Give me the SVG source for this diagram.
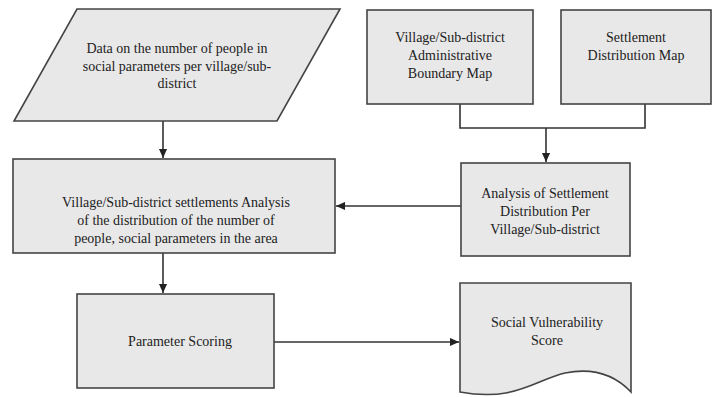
<svg xmlns="http://www.w3.org/2000/svg" width="713" height="397" viewBox="0 0 713 397">
<defs>
<style>
.n{fill:#e8e8e8;stroke:#444;stroke-width:1.6}
.t{font-family:'Liberation Serif','DejaVu Serif',serif;font-size:14px;fill:#222;text-anchor:middle}
.c{fill:none;stroke:#333;stroke-width:1.6}
</style>
<marker id="ah" viewBox="0 0 10 10" refX="10" refY="5" markerWidth="9" markerHeight="9" markerUnits="userSpaceOnUse" orient="auto">
<path d="M0,0.5 L10,5 L0,9.5 z" fill="#222"/>
</marker>
</defs>
<rect width="713" height="397" fill="#fff"/>
<g id="connectors">
<path class="c" d="M163,121 V158" marker-end="url(#ah)"/>
<path class="c" d="M460,104 V128 H645 V104"/>
<path class="c" d="M546,128 V162" marker-end="url(#ah)"/>
<path class="c" d="M461,206 H336" marker-end="url(#ah)"/>
<path class="c" d="M163,253 V293" marker-end="url(#ah)"/>
<path class="c" d="M274,342 H459" marker-end="url(#ah)"/>
</g>
<g font-family="Liberation Serif, serif">
<g id="data">
<polygon class="n" points="77,9 340,9 277,121 14,121"/>
<text class="t" x="177" y="53">Data on the number of people in</text>
<text class="t" x="177" y="71">social parameters per village/sub-</text>
<text class="t" x="177" y="88">district</text>
</g>
<g id="boundary">
<rect class="n" x="367" y="10" width="166" height="94"/>
<text class="t" x="450" y="42">Village/Sub-district</text>
<text class="t" x="450" y="60">Administrative</text>
<text class="t" x="450" y="78">Boundary Map</text>
</g>
<g id="settlement">
<rect class="n" x="561" y="10" width="150" height="94"/>
<text class="t" x="636" y="42">Settlement</text>
<text class="t" x="636" y="60">Distribution Map</text>
</g>
<g id="analysis-settlement">
<rect class="n" x="461" y="163" width="169" height="93"/>
<text class="t" x="545" y="198">Analysis of Settlement</text>
<text class="t" x="545" y="216">Distribution Per</text>
<text class="t" x="545" y="234">Village/Sub-district</text>
</g>
<g id="village-analysis">
<rect class="n" x="13" y="159" width="322" height="94"/>
<text class="t" x="176" y="207">Village/Sub-district settlements Analysis</text>
<text class="t" x="176" y="225">of the distribution of the number of</text>
<text class="t" x="176" y="243">people, social parameters in the area</text>
</g>
<g id="scoring">
<rect class="n" x="77" y="294" width="197" height="94"/>
<text class="t" x="180" y="346">Parameter Scoring</text>
</g>
<g id="score">
<path class="n" d="M460,283 H631 V392 C612,372 590,368 565,373 C535,380 515,402 460,392 Z"/>
<text class="t" x="547" y="327">Social Vulnerability</text>
<text class="t" x="547" y="345">Score</text>
</g>
</g>
</svg>
